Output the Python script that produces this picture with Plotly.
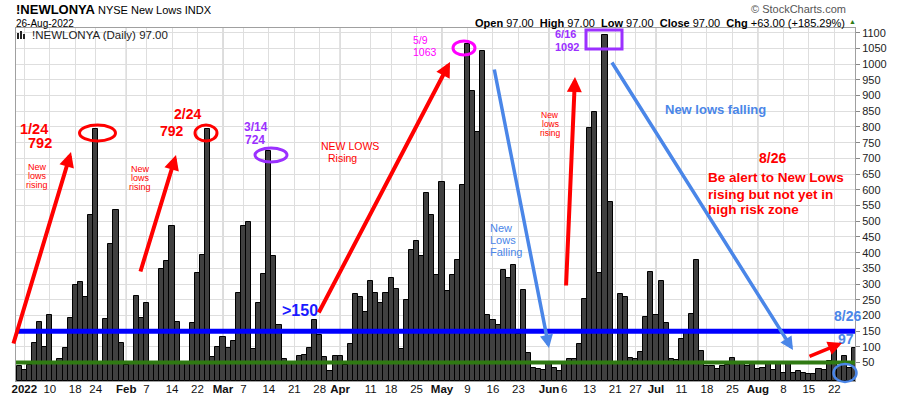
import plotly.graph_objects as go
import pandas as pd

# ---------------- data ----------------
holidays = ['2022-01-17', '2022-02-21', '2022-04-15', '2022-05-30', '2022-06-20', '2022-07-04']
trading_days = [d.strftime('%Y-%m-%d') for d in pd.bdate_range('2021-12-31', '2022-08-26')
                if d.strftime('%Y-%m-%d') not in holidays]

new_lows = [
    38,
    25, 44, 114, 180, 101, 200, 52, 60, 98, 193, 296, 308, 259, 521, 792, 52, 190, 427, 537, 114,
    44, 52, 261, 193, 239, 52, 52, 347, 373, 484, 178, 52, 52, 175, 334, 392, 792, 69, 101,
    130, 95, 120, 271, 484, 496, 92, 239, 333, 724, 389, 171, 63, 52, 52, 70, 75, 95, 185, 137, 69, 22, 70,
    72, 44, 110, 268, 258, 211, 309, 273, 240, 273, 320, 283, 92, 248, 407, 436, 389, 589, 520, 328,
    625, 279, 330, 378, 616, 1063, 913, 785, 1043, 200, 185, 171, 346, 319, 362, 141, 282, 80, 34, 31, 28,
    47, 34, 23, 52, 63, 60, 110, 251, 798, 848, 336, 1092, 562, 52, 268, 259, 66, 60, 84, 195, 339,
    203, 309, 177, 62, 58, 126, 150, 206, 376, 86, 40, 38, 30, 38, 42, 66, 45, 45, 40, 45,
    31, 34, 45, 28, 50, 18, 49, 18, 23, 18, 15, 15, 31, 25, 55, 89, 40, 71, 34, 97,
]

tick_dates = ['2022-01-03', '2022-01-10', '2022-01-18', '2022-01-24', '2022-02-01', '2022-02-07',
              '2022-02-14', '2022-02-22', '2022-03-01', '2022-03-07', '2022-03-14', '2022-03-21',
              '2022-03-28', '2022-04-01', '2022-04-11', '2022-04-18', '2022-04-25', '2022-05-02',
              '2022-05-09', '2022-05-16', '2022-05-23', '2022-06-01', '2022-06-06', '2022-06-13',
              '2022-06-21', '2022-06-27', '2022-07-01', '2022-07-11', '2022-07-18', '2022-07-25',
              '2022-08-01', '2022-08-08', '2022-08-15', '2022-08-22']
tick_text = ['<b>2022</b>', '10', '18', '24', '<b>Feb</b>', '7', '14', '22', '<b>Mar</b>', '7', '14',
             '21', '28', '<b>Apr</b>', '11', '18', '25', '<b>May</b>', '9', '16', '23', '<b>Jun</b>',
             '6', '13', '21', '27', '<b>Jul</b>', '11', '18', '25', '<b>Aug</b>', '8', '15', '22']
month_dates = ['2022-02-01', '2022-03-01', '2022-04-01', '2022-05-02', '2022-06-01', '2022-07-01', '2022-08-01']

high_risk_level = 150
low_level = 50
y_min, y_max = -8.5, 1115

# ---------------- layout geometry ----------------
W, H = 900, 396
L, R, T, B = 16, 855, 28, 381
FONT = 'Liberation Sans, Arial, sans-serif'

def px(x):
    return (x - L) / (R - L)

def py(y):
    return (B - y) / (B - T)

x_idx = list(range(len(trading_days)))
tick_idx = [trading_days.index(d) for d in tick_dates]
month_idx = [trading_days.index(d) for d in month_dates]

fig = go.Figure()
fig.add_trace(go.Bar(
    x=x_idx, y=[v - y_min for v in new_lows], base=y_min,
    marker=dict(color='#404040', line=dict(color='#000000', width=1)),
    hoverinfo='skip', showlegend=False,
))

shapes = []
for m in month_idx:
    shapes.append(dict(type='line', xref='x', yref='paper', x0=m, x1=m, y0=0, y1=1,
                       line=dict(color='#b4b4b4', width=1), layer='below'))
shapes.append(dict(type='line', xref='paper', yref='y', x0=0, x1=1, y0=high_risk_level, y1=high_risk_level,
                   line=dict(color='#0000ff', width=5), layer='above'))
shapes.append(dict(type='line', xref='paper', yref='y', x0=0, x1=1, y0=low_level, y1=low_level,
                   line=dict(color='#2f7a12', width=4), layer='above'))

def ellipse(x0, y0, x1, y1, color, width=2.5, kind='circle'):
    shapes.append(dict(type=kind, xref='paper', yref='paper', x0=px(x0), x1=px(x1), y0=py(y1), y1=py(y0),
                       line=dict(color=color, width=width), fillcolor='rgba(0,0,0,0)', layer='above'))

ellipse(79.5, 125, 115.5, 141, '#ff0000', 3)
ellipse(195, 125, 217, 141, '#ff0000', 3)
ellipse(255, 148, 287, 162, '#9b30ff', 3)
ellipse(453, 41, 475, 55, '#ff00ff', 3)
ellipse(586, 30, 622, 49, '#9b30ff', 3, kind='rect')
ellipse(833.5, 364, 856.5, 382, '#4a86e8', 2.5)

for (a, b, top) in [(17, 19, 33), (20, 22, 31), (23, 25, 34)]:
    shapes.append(dict(type='rect', xref='paper', yref='paper', x0=px(a), x1=px(b), y0=py(39), y1=py(top),
                       line=dict(width=0), fillcolor='#222222', layer='above'))

annotations = []

def text(x, y, s, size=11, color='#000000', bold=False, xanchor='center', yanchor='middle'):
    annotations.append(dict(x=px(x), y=py(y), xref='paper', yref='paper', text=('<b>%s</b>' % s) if bold else s,
                            showarrow=False, xanchor=xanchor, yanchor=yanchor, borderpad=0,
                            font=dict(family=FONT, size=size, color=color)))

def arrow(x0, y0, x1, y1, color, width=4, size=0.75):
    annotations.append(dict(x=px(x1), y=py(y1), xref='paper', yref='paper', ax=x0 - x1, ay=y0 - y1,
                            axref='pixel', ayref='pixel', text='', showarrow=True, arrowhead=2,
                            arrowsize=size, arrowwidth=width, arrowcolor=color))

# header
text(15, 9, '!NEWLONYA', 13, '#000000', True, 'left')
text(97, 10, 'NYSE New Lows INDX', 11, '#000000', False, 'left')
text(15, 23, '26-Aug-2022', 10, '#000000', False, 'left')
text(847, 9, '\u00a9 StockCharts.com', 11, '#555555', False, 'right')
text(846, 23, '<b>Open</b> 97.00  <b>High</b> 97.00  <b>Low</b> 97.00  <b>Close</b> 97.00  '
              '<b>Chg</b> +63.00 (+185.29%)', 11, '#000000', False, 'right')
text(852, 22, '\u25b2', 7, '#2f7a12')
text(31, 35, '!NEWLONYA (Daily) 97.00', 11.5, '#222222', False, 'left')

# notes
text(34, 129, '1/24', 14.5, '#ff0000', True)
text(40, 143, '792', 14.5, '#ff0000', True)
for t, yy in [('New', 167), ('lows', 176), ('rising', 185)]:
    text(37, yy, t, 9, '#ff0000')
text(187, 114, '2/24', 14, '#ff0000', True)
text(172, 131, '792', 14, '#ff0000', True)
for t, yy in [('New', 169), ('lows', 178), ('rising', 187)]:
    text(140, yy, t, 9, '#ff0000')
text(256, 127, '3/14', 12, '#9b30ff', True)
text(255, 140, '724', 12, '#9b30ff', True)
text(300, 310, '>150', 16, '#1a1aff', True)
text(350, 146, 'NEW LOWS', 10.5, '#ff0000')
text(342, 158, 'Rising', 10.5, '#ff0000')
text(420, 40, '5/9', 10.5, '#ff00ff')
text(425, 52, '1063', 10.5, '#ff00ff')
for t, yy in [('New', 228), ('Lows', 240), ('Falling', 252)]:
    text(489, yy, t, 11, '#4a86e8', False, 'left')
text(565, 34, '6/16', 11, '#9b30ff', True)
text(567, 47, '1092', 11, '#9b30ff', True)
for t, yy in [('New', 115), ('lows', 124), ('rising', 133)]:
    text(550, yy, t, 8.5, '#ff0000')
text(715, 109, 'New lows falling', 13, '#4a86e8', True)
text(772, 158, '8/26', 14, '#ff0000', True)
text(707, 178, 'Be alert to New Lows', 13.5, '#ff0000', True, 'left')
text(707, 194, 'rising but not yet in', 13.5, '#ff0000', True, 'left')
text(707, 209, 'high risk zone', 13.5, '#ff0000', True, 'left')
text(847, 316, '8/26', 14, '#4a86e8', True)
text(846, 339, '97', 14, '#4a86e8', True)

arrow(13, 345, 71, 152, '#ff0000')
arrow(140, 273, 176, 155, '#ff0000')
arrow(318, 314, 450, 62, '#ff0000')
arrow(566, 287, 575, 77, '#ff0000')
arrow(808, 357, 842, 343, '#ff0000', 3.5, 0.8)
arrow(494, 68, 549, 348, '#4a86e8', 3.5, 0.75)
arrow(611, 61, 793, 350, '#4a86e8', 3.5, 0.75)

fig.update_layout(
    width=W, height=H,
    margin=dict(l=L, r=W - R, t=T, b=H - B, autoexpand=False),
    paper_bgcolor='white', plot_bgcolor='white',
    bargap=0, shapes=shapes, annotations=annotations,
    font=dict(family=FONT, size=11, color='#222222'),
    xaxis=dict(range=[-0.63, len(trading_days) - 0.93], tickmode='array', tickvals=tick_idx, ticktext=tick_text,
               tickangle=0, automargin=False, ticklabelstandoff=-3,
               showgrid=True, gridcolor='#dedede', gridwidth=1, ticks='', showline=True, mirror=True,
               linecolor='#a0a0a0', linewidth=1, tickfont=dict(size=11.5, color='#111111'), zeroline=False),
    yaxis=dict(range=[y_min, y_max], side='right', automargin=False,
               tickvals=list(range(50, 1101, 50)),
               showgrid=True, gridcolor='#dedede', gridwidth=1, ticks='outside', ticklen=4,
               tickcolor='#888888', showline=True, mirror=True, linecolor='#a0a0a0', linewidth=1,
               tickfont=dict(size=11, color='#222222'), zeroline=False),
)

fig.write_html('out.html', config={'displayModeBar': False},
               post_script="document.body.style.margin='0px';document.body.style.overflow='hidden';")
